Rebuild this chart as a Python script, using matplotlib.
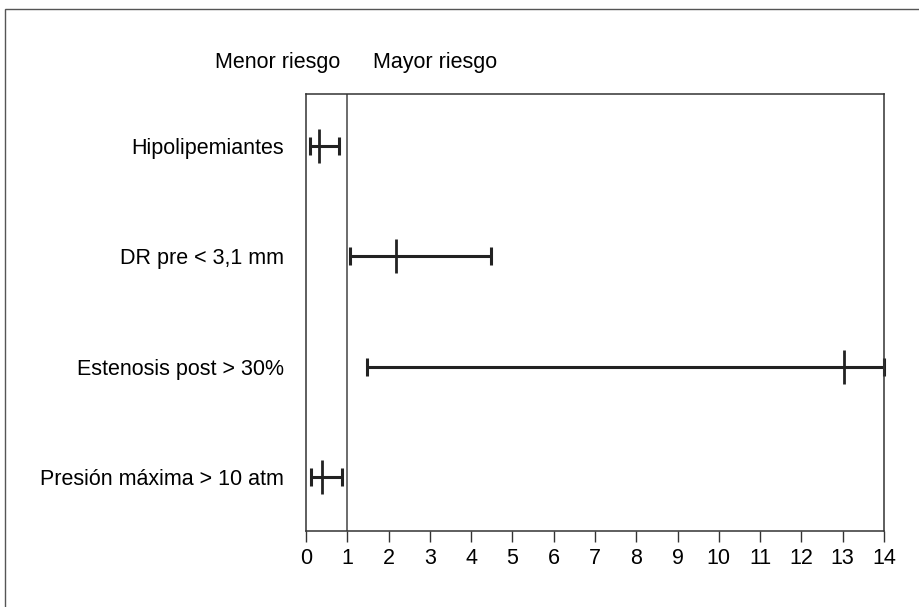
import matplotlib
matplotlib.use('Agg')
import matplotlib.pyplot as plt
from matplotlib.patches import Rectangle

plt.rcParams['font.family'] = ['Liberation Sans', 'DejaVu Sans']

# odds ratio con IC 95%
labels = ['Hipolipemiantes', 'DR pre < 3,1 mm', 'Estenosis post > 30%', 'Presión máxima > 10 atm']
or_vals = [0.31, 2.17, 13.03, 0.38]
ci_low = [0.09, 1.07, 1.48, 0.13]
ci_high = [0.80, 4.48, 14.0, 0.87]
xticks = list(range(0, 15))

INK = '#222222'
FS = 15.5

fig = plt.figure(figsize=(9.2, 6.07), dpi=100)
# marco exterior (sólo se ven los bordes superior e izquierdo)
fig.add_artist(Rectangle((5 / 920, -0.1), 1.2, 1.1 - 9 / 607, transform=fig.transFigure,
                         fill=False, lw=1.0, ec='#555555'))
ax = fig.add_axes([306 / 920, 1 - 531 / 607, 578 / 920, 437 / 607])

ypos = [4, 3, 2, 1]
for y, m, lo, hi in zip(ypos, or_vals, ci_low, ci_high):
    ax.plot([lo, hi], [y, y], color=INK, lw=2.2, solid_capstyle='butt', clip_on=False)
    ax.plot([lo, hi], [y, y], ls='none', marker='|', ms=12.5, mew=2.2, color=INK, clip_on=False)
    ax.plot([m], [y], ls='none', marker='|', ms=24, mew=2.0, color=INK, clip_on=False)

ax.axvline(1, color='#444444', lw=1.1)

ax.set_xlim(0, 14)
ax.set_ylim(0.51, 4.47)
ax.set_xticks(xticks)
ax.set_xticklabels([str(t) for t in xticks], fontsize=FS)
ax.set_yticks(ypos)
ax.set_yticklabels(labels, fontsize=FS)
ax.tick_params(axis='y', length=0, pad=16)
ax.tick_params(axis='x', length=8, width=1.0, color='#333333', pad=4)
for s in ax.spines.values():
    s.set_linewidth(1.1)
    s.set_color('#333333')

ax.text(0.82, 1.073, 'Menor riesgo', transform=ax.get_xaxis_transform(),
        ha='right', va='center', fontsize=FS)
ax.text(1.62, 1.073, 'Mayor riesgo', transform=ax.get_xaxis_transform(),
        ha='left', va='center', fontsize=FS)

fig.savefig('out.png', dpi=100)
